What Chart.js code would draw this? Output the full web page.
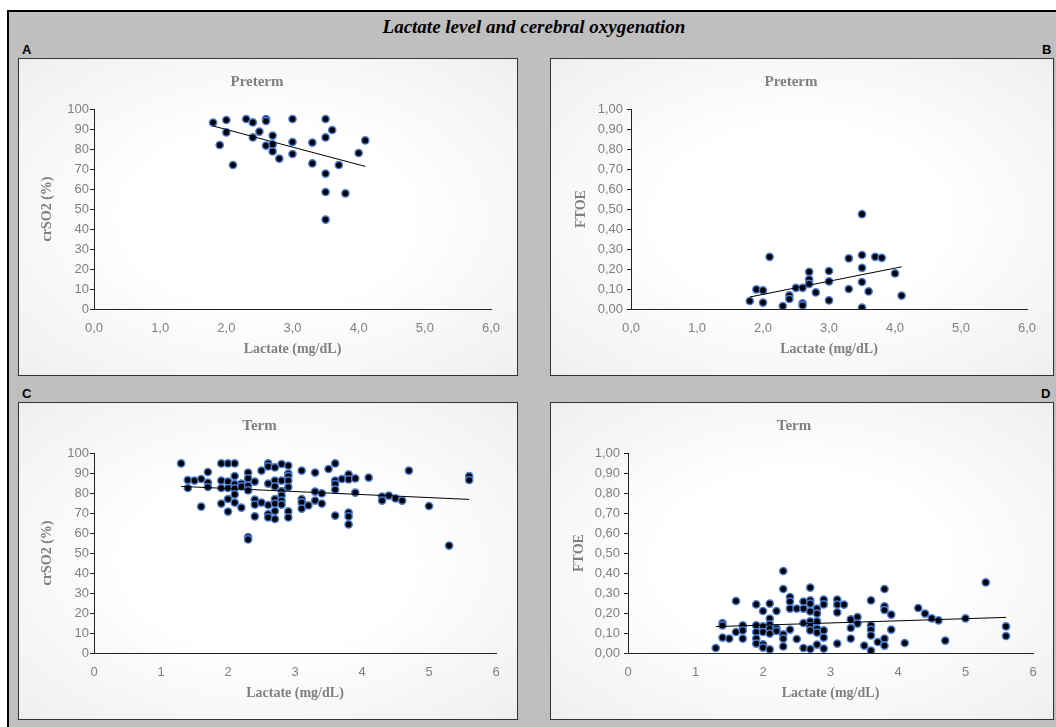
<!DOCTYPE html>
<html>
<head>
<meta charset="utf-8">
<script src="https://cdn.jsdelivr.net/npm/chart.js@4.4.1/dist/chart.umd.min.js"></script>
<style>
  body { margin: 0; background: #fff; width: 1056px; height: 727px; overflow: hidden; position: relative; }
  #frame { position: absolute; left: 7px; top: 10px; width: 1060px; height: 730px; background: #bfbfbf; border-top: 2px solid #000; border-left: 2px solid #000; }
  #title { position: absolute; left: 6px; width: 1056px; top: 16px; text-align: center; font: italic bold 19px "Liberation Serif", serif; color: #000; }
  .tag { position: absolute; font: bold 13px "Liberation Sans", sans-serif; color: #000; }
  .panel { position: absolute; box-sizing: border-box; border: 1px solid #333; background: radial-gradient(ellipse at center, #ffffff 40%, #efefef 100%); }
  .panel canvas { position: absolute; left: 0; top: 0; }
</style>
</head>
<body>
<div id="frame"></div>
<div id="title">Lactate level and cerebral oxygenation</div>
<div class="tag" style="left:22px;top:42px">A</div>
<div class="tag" style="left:1042px;top:42px">B</div>
<div class="tag" style="left:22px;top:386px">C</div>
<div class="tag" style="left:1041px;top:386px">D</div>
<div class="panel" style="left:18px;top:58px;width:500px;height:318px"><canvas id="chartA" width="498" height="316"></canvas></div>
<div class="panel" style="left:550px;top:58px;width:504px;height:318px"><canvas id="chartB" width="502" height="316"></canvas></div>
<div class="panel" style="left:18px;top:402px;width:500px;height:318px"><canvas id="chartC" width="498" height="316"></canvas></div>
<div class="panel" style="left:550px;top:402px;width:504px;height:318px"><canvas id="chartD" width="502" height="316"></canvas></div>
<script>
// Preterm - same patients in A and B
const pretermLactate = [1.8, 1.9, 2.0, 2.0, 2.1, 2.3, 2.4, 2.4, 2.5, 2.6, 2.6, 2.6, 2.7, 2.7, 2.7, 2.8,
    3.0, 3.0, 3.0, 3.3, 3.3, 3.5, 3.5, 3.5, 3.5, 3.5, 3.6, 3.7, 3.8, 4.0, 4.1];
const pretermCrSO2 = [93.2, 82, 94.5, 88.3, 72, 95, 93.3, 85.8, 88.7, 95, 94, 81.7, 86.7, 82.3, 78.8, 75.2,
    95, 83.5, 77.5, 83.2, 72.8, 95, 85.8, 67.7, 58.5, 44.7, 89.5, 72, 57.8, 78, 84.3];
const pretermFtoe = [0.040, 0.098, 0.093, 0.032, 0.261, 0.015, 0.068, 0.050, 0.106, 0.106, 0.028, 0.018,
    0.186, 0.148, 0.126, 0.083, 0.190, 0.138, 0.043, 0.253, 0.100, 0.474, 0.270, 0.206, 0.135, 0.007,
    0.088, 0.261, 0.256, 0.178, 0.067];

// Term - C
const termLactateC = [1.3, 1.4, 1.4, 1.5, 1.6, 1.6, 1.7, 1.7, 1.7, 1.9, 1.9, 1.9, 1.9,
    2.0, 2.0, 2.0, 2.0, 2.0, 2.1, 2.1, 2.1, 2.1, 2.1, 2.1, 2.2, 2.2, 2.2,
    2.3, 2.3, 2.3, 2.3, 2.3, 2.3, 2.4, 2.4, 2.4, 2.4, 2.5, 2.5,
    2.6, 2.6, 2.6, 2.6, 2.6, 2.6, 2.7, 2.7, 2.7, 2.7, 2.7, 2.7, 2.7,
    2.8, 2.8, 2.8, 2.8, 2.8, 2.8, 2.9, 2.9, 2.9, 2.9, 2.9, 2.9, 2.9,
    3.1, 3.1, 3.1, 3.1, 3.2, 3.3, 3.3, 3.3, 3.4, 3.4, 3.5,
    3.6, 3.6, 3.6, 3.6, 3.6, 3.7, 3.8, 3.8, 3.8, 3.8, 3.8, 3.9, 3.9,
    4.1, 4.3, 4.3, 4.4, 4.5, 4.6, 4.7, 5.0, 5.3, 5.6, 5.6];
const termCrSO2 = [94.8, 86.5, 82.5, 86.2, 87, 73.2, 90.5, 85.2, 83, 94.8, 86.2, 82.5, 74.7,
    94.8, 85.7, 82.5, 77, 70.7, 94.8, 88.5, 84.5, 82.3, 79.3, 75.2, 84.7, 83.3, 72.7,
    90.2, 87.3, 83.7, 81.3, 58, 56.8, 85.7, 76.7, 74.2, 68.3, 91.2, 75.2,
    94.8, 93.3, 84.7, 74, 69.5, 67.8, 92.8, 86.2, 83.3, 77, 74.7, 71, 67,
    94.5, 86.2, 81, 78.8, 76.2, 74.2, 93.7, 89.7, 88.5, 86.2, 83, 70.8, 67.8,
    91.2, 77, 75.3, 72.2, 73.8, 90.2, 80.7, 76.2, 79.8, 74.7, 92,
    94.8, 86.2, 84.5, 81.7, 68.7, 87, 89.3, 86.8, 70.2, 68.3, 64.3, 87.3, 80.2,
    87.7, 78.2, 76.2, 78.7, 77.3, 76.2, 91.2, 73.5, 53.7, 88.5, 86.5];

// Term - D
const termLactateD = [1.3, 1.4, 1.4, 1.4, 1.5, 1.6, 1.6, 1.7, 1.7, 1.7, 1.9, 1.9, 1.9, 1.9, 1.9,
    2.0, 2.0, 2.0, 2.0, 2.0, 2.1, 2.1, 2.1, 2.1, 2.1, 2.1, 2.2, 2.2, 2.2,
    2.3, 2.3, 2.3, 2.3, 2.3, 2.4, 2.4, 2.4, 2.4, 2.5, 2.5, 2.6, 2.6, 2.6, 2.6,
    2.7, 2.7, 2.7, 2.7, 2.7, 2.7, 2.7, 2.7, 2.8, 2.8, 2.8, 2.8, 2.8, 2.8,
    2.9, 2.9, 2.9, 2.9, 2.9, 3.1, 3.1, 3.1, 3.1, 3.2, 3.3, 3.3, 3.3, 3.4, 3.4, 3.5,
    3.6, 3.6, 3.6, 3.6, 3.6, 3.7, 3.8, 3.8, 3.8, 3.8, 3.8, 3.9, 3.9,
    4.1, 4.3, 4.4, 4.5, 4.6, 4.7, 5.0, 5.3, 5.6, 5.6];
const termFtoe = [0.025, 0.150, 0.138, 0.077, 0.072, 0.260, 0.105, 0.138, 0.113, 0.072, 0.243, 0.138, 0.105, 0.072, 0.047,
    0.210, 0.133, 0.105, 0.043, 0.027, 0.247, 0.172, 0.143, 0.122, 0.097, 0.018, 0.210, 0.123, 0.110,
    0.410, 0.320, 0.093, 0.072, 0.033, 0.280, 0.257, 0.222, 0.117, 0.222, 0.070, 0.257, 0.222, 0.150, 0.025,
    0.327, 0.263, 0.247, 0.208, 0.158, 0.133, 0.113, 0.020, 0.222, 0.197, 0.158, 0.122, 0.102, 0.042,
    0.267, 0.243, 0.113, 0.077, 0.022, 0.267, 0.242, 0.203, 0.047, 0.242, 0.168, 0.125, 0.072, 0.180, 0.147, 0.037,
    0.263, 0.138, 0.117, 0.088, 0.012, 0.055, 0.320, 0.233, 0.215, 0.072, 0.037, 0.192, 0.117,
    0.050, 0.225, 0.197, 0.173, 0.163, 0.062, 0.173, 0.353, 0.133, 0.085];

// Linear trend line ends
const trendLactateA = [1.8, 4.1], trendCrSO2A = [91.5, 71.3];
const trendLactateB = [1.8, 4.1], trendFtoeB = [0.060, 0.211];
const trendLactateC = [1.3, 5.6], trendCrSO2C = [83.3, 76.8];
const trendLactateD = [1.3, 5.6], trendFtoeD = [0.132, 0.178];

// tick labels
const xTicksPreterm = ['0,0', '1,0', '2,0', '3,0', '4,0', '5,0', '6,0'];
const xTicksTerm = ['0', '1', '2', '3', '4', '5', '6'];
const yTicksCrSO2 = ['0', '10', '20', '30', '40', '50', '60', '70', '80', '90', '100'];
const yTicksFtoe = ['0,00', '0,10', '0,20', '0,30', '0,40', '0,50', '0,60', '0,70', '0,80', '0,90', '1,00'];

const gray = '#7f7f7f';
const tickFont = { family: '"Liberation Sans", sans-serif', size: 13 };
const titleFont = { family: '"Liberation Serif", serif', size: 14, weight: 'bold' };
const chartTitleFont = { family: '"Liberation Serif", serif', size: 15, weight: 'bold' };

function pairs(xs, ys) {
    return xs.map((x, i) => ({ x: x, y: ys[i] }));
}

function makeChart(id, title, xs, ys, tx, ty, yTitle, xLabels, yLabels, yMax, yStep, box) {
    new Chart(document.getElementById(id), {
        type: 'scatter',
        data: {
            datasets: [
                {
                    type: 'line',
                    data: pairs(tx, ty),
                    borderColor: '#000',
                    borderWidth: 1,
                    pointRadius: 0,
                    fill: false
                },
                {
                    data: pairs(xs, ys),
                    backgroundColor: '#000',
                    borderColor: '#4a7bd0',
                    borderWidth: 1.5,
                    pointRadius: 3.6
                }
            ]
        },
        options: {
            responsive: false,
            animation: false,
            events: [],
            layout: { padding: { left: 4, right: box.right, top: 0, bottom: 0 } },
            plugins: {
                legend: { display: false },
                tooltip: { enabled: false },
                title: {
                    display: true,
                    text: title,
                    color: gray,
                    font: chartTitleFont,
                    padding: { top: 14, bottom: box.top - 14 - 18 }
                }
            },
            scales: {
                x: {
                    type: 'linear',
                    min: 0,
                    max: 6,
                    afterFit: s => { s.height = 66; },
                    ticks: {
                        stepSize: 1,
                        color: gray,
                        font: tickFont,
                        padding: 4,
                        maxRotation: 0,
                        callback: (v, i) => xLabels[i]
                    },
                    grid: { display: false },
                    border: { display: true, color: '#222', width: 1 },
                    title: {
                        display: true,
                        text: 'Lactate (mg/dL)',
                        color: gray,
                        font: titleFont,
                        padding: { top: 0, bottom: 17 }
                    }
                },
                y: {
                    type: 'linear',
                    min: 0,
                    max: yMax,
                    afterFit: s => { s.width = box.left - 4; },
                    ticks: {
                        stepSize: yStep,
                        color: gray,
                        font: tickFont,
                        padding: box.tickPad,
                        callback: (v, i) => yLabels[i]
                    },
                    grid: { display: true, drawOnChartArea: false, drawTicks: true, tickLength: 4, color: '#222' },
                    border: { display: true, color: '#222', width: 1 },
                    title: {
                        display: true,
                        text: yTitle,
                        color: gray,
                        font: titleFont,
                        padding: { top: box.yTitle - 4 - 8.4, bottom: 0 }
                    }
                }
            }
        }
    });
}

makeChart('chartA', 'Preterm', pretermLactate, pretermCrSO2, trendLactateA, trendCrSO2A, 'crSO2 (%)',
    xTicksPreterm, yTicksCrSO2, 100, 10, { left: 75, right: 26, top: 50, yTitle: 28, tickPad: 1 });
makeChart('chartB', 'Preterm', pretermLactate, pretermFtoe, trendLactateB, trendFtoeB, 'FTOE',
    xTicksPreterm, yTicksFtoe, 1, 0.1, { left: 80, right: 26, top: 50, yTitle: 30, tickPad: 4 });
makeChart('chartC', 'Term', termLactateC, termCrSO2, trendLactateC, trendCrSO2C, 'crSO2 (%)',
    xTicksTerm, yTicksCrSO2, 100, 10, { left: 75, right: 21, top: 50, yTitle: 28, tickPad: 1 });
makeChart('chartD', 'Term', termLactateD, termFtoe, trendLactateD, trendFtoeD, 'FTOE',
    xTicksTerm, yTicksFtoe, 1, 0.1, { left: 77, right: 20, top: 50, yTitle: 28, tickPad: 4 });
</script>
</body>
</html>
